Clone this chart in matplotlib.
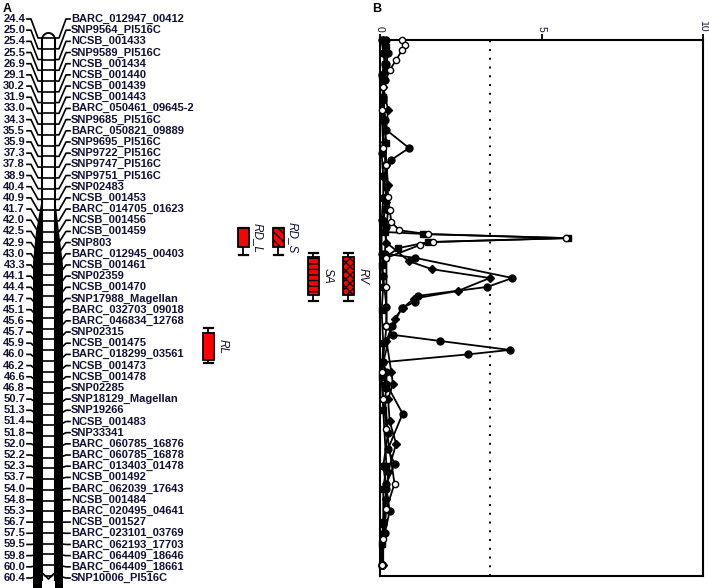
import numpy as np
import matplotlib
matplotlib.use('Agg')
import matplotlib.pyplot as plt
from matplotlib.patches import Rectangle, Polygon

plt.rcParams['font.family'] = ['Liberation Sans', 'DejaVu Sans']

# ==============================================================================
# Linkage group (panel A)
marker_cm = [24.4, 25.0, 25.4, 25.5, 26.9, 29.1, 30.2, 31.9, 33.0, 34.3,
             35.5, 35.9, 37.3, 37.8, 38.9, 40.4, 40.9, 41.7, 42.0, 42.5,
             42.9, 43.0, 43.3, 44.1, 44.4, 44.7, 45.1, 45.6, 45.7, 45.9,
             46.0, 46.2, 46.6, 46.8, 50.7, 51.3, 51.4, 51.8, 52.0, 52.2,
             52.3, 53.7, 54.0, 54.8, 55.3, 56.7, 57.5, 59.5, 59.8, 60.0,
             60.4]
marker_names = ['BARC_012947_00412', 'SNP9564_PI516C', 'NCSB_001433',
                'SNP9589_PI516C', 'NCSB_001434', 'NCSB_001440', 'NCSB_001439',
                'NCSB_001443', 'BARC_050461_09645-2', 'SNP9685_PI516C',
                'BARC_050821_09889', 'SNP9695_PI516C', 'SNP9722_PI516C',
                'SNP9747_PI516C', 'SNP9751_PI516C', 'SNP02483', 'NCSB_001453',
                'BARC_014705_01623', 'NCSB_001456', 'NCSB_001459', 'SNP803',
                'BARC_012945_00403', 'NCSB_001461', 'SNP02359', 'NCSB_001470',
                'SNP17988_Magellan', 'BARC_032703_09018', 'BARC_046834_12768',
                'SNP02315', 'NCSB_001475', 'BARC_018299_03561', 'NCSB_001473',
                'NCSB_001478', 'SNP02285', 'SNP18129_Magellan', 'SNP19266',
                'NCSB_001483', 'SNP33341', 'BARC_060785_16876',
                'BARC_060785_16878', 'BARC_013403_01478', 'NCSB_001492',
                'BARC_062039_17643', 'NCSB_001484', 'BARC_020495_04641',
                'NCSB_001527', 'BARC_023101_03769', 'BARC_062193_17703',
                'BARC_064409_18646', 'BARC_064409_18661', 'SNP10006_PI516C']

# QTL intervals (cM)
qtl_names = ['RL', 'RD_L', 'RD_S', 'SA', 'RV']
qtl_whisk_top = [45.66, 42.35, 42.35, 42.99, 42.99]
qtl_box_top = [45.72, 42.35, 42.35, 43.09, 43.09]
qtl_box_bot = [46.10, 42.94, 42.94, 44.61, 44.61]
qtl_whisk_bot = [46.15, 43.03, 43.03, 44.79, 44.79]

# ==============================================================================
# LOD profiles (panel B)
rl_pos = [25.35, 25.5, 27.0, 29.1, 31.9, 34.3, 37.3, 38.9, 40.9, 42.0,
          43.0, 44.1, 45.0, 45.65, 45.75, 45.86, 45.96, 46.0, 46.14, 46.43,
          46.8, 50.7, 51.8, 52.3, 54.0, 55.3, 57.5, 59.96]
rl_lod = [0.05, 0.1, 0.15, 0.05, 0.1, 0.15, 0.05, 0.1, 0.1, 0.05,
          0.05, 0.1, 0.2, 0.2, 0.4, 1.86, 4.02, 2.72, 0.09, 0.2,
          0.2, 0.15, 0.25, 0.1, 0.2, 0.3, 0.15, 0.05]

rdl_pos = [25.35, 25.45, 26.9, 29.1, 31.9, 34.3, 36.0, 37.9, 40.4, 41.7,
           42.1, 42.52, 42.59, 42.74, 42.88, 42.95, 43.11, 43.3, 44.4, 45.1,
           45.9, 46.6, 51.3, 52.3, 54.0, 56.7, 59.5, 59.96]
rdl_lod = [0.1, 0.2, 0.15, 0.05, 0.1, 0.1, 0.2, 0.15, 0.2, 0.15,
           0.1, 0.15, 1.33, 5.82, 1.49, 0.56, 0.15, 0.05, 0.1, 0.05,
           0.1, 0.05, 0.1, 0.2, 0.1, 0.1, 0.05, 0.05]

rds_pos = [25.35, 25.43, 25.48, 26.44, 28.13, 30.3, 33.2, 36.66, 37.9, 40.86,
           41.72, 42.08, 42.45, 42.6, 42.74, 42.88, 42.92, 43.11, 44.4, 45.65,
           46.43, 50.6, 51.66, 53.87, 55.2, 58.5, 59.96]
rds_lod = [0.68, 0.77, 0.68, 0.5, 0.3, 0.1, 0.05, 0.1, 0.2, 0.25,
           0.3, 0.35, 0.6, 1.5, 5.75, 1.65, 1.25, 0.2, 0.2, 0.2,
           0.05, 0.1, 0.2, 0.45, 0.2, 0.1, 0.05]

sa_pos = [25.35, 25.5, 26.9, 29.6, 32.2, 35.42, 36.66, 37.6, 39.0, 40.86,
          41.72, 42.3, 43.0, 43.11, 44.15, 44.39, 44.63, 44.82, 45.04, 45.65,
          46.14, 46.73, 51.33, 52.09, 52.28, 53.87, 56.82, 59.96]
sa_lod = [0.2, 0.25, 0.2, 0.15, 0.1, 0.2, 0.9, 0.35, 0.1, 0.2,
          0.25, 0.2, 0.15, 1.09, 4.1, 3.32, 1.17, 1.08, 0.68, 0.37,
          0.1, 0.2, 0.7, 0.25, 0.45, 0.2, 0.1, 0.05]

rv_pos = [25.35, 25.5, 28.1, 30.3, 33.2, 35.9, 37.9, 40.2, 41.2, 42.0,
          42.9, 43.2, 43.6, 44.15, 44.5, 44.7, 45.04, 45.5, 45.86, 46.43,
          46.73, 50.7, 51.4, 52.0, 53.0, 54.74, 57.5, 59.96]
rv_lod = [0.1, 0.15, 0.2, 0.1, 0.25, 0.15, 0.2, 0.25, 0.2, 0.1,
          0.2, 0.9, 1.6, 3.4, 2.4, 1.06, 0.7, 0.45, 0.2, 0.35,
          0.4, 0.25, 0.3, 0.5, 0.25, 0.2, 0.1, 0.1]

lod_threshold = 3.4
lod_ticks = [0, 5, 10]


# ==============================================================================
def main():
    W, H = 709, 588
    fig = plt.figure(figsize=(W / 100, H / 100), dpi=100)
    txt_col = '#111133'

    n = len(marker_cm)
    idx = np.arange(n)
    y_first, y_last = 19.0, 578.0
    step = (y_last - y_first) / (n - 1)

    def cm2px(cm):
        return y_first + np.interp(cm, marker_cm, idx) * step

    # --------------------------------------------------------------------------
    # Panel A: chromosome drawing in pixel-like coordinates
    ax = fig.add_axes([0, 0, 370 / W, 1])
    ax.set_xlim(0, 370)
    ax.set_ylim(H, 0)
    ax.axis('off')

    lab_y = y_first + idx * step
    chr_y = np.linspace(38, 576, n)
    xl, xr = 42, 55

    # black wedges in the dense part
    ax.add_patch(Polygon([(xl, 198), (36, 232), (33, 262), (33, H), (xl, H)],
                         closed=True, color='black', lw=0))
    ax.add_patch(Polygon([(xr, 198), (59, 232), (63, 265), (63, H), (xr, H)],
                         closed=True, color='black', lw=0))

    for i in range(n):
        ax.plot([27, 31, 38, xl], [lab_y[i], lab_y[i], chr_y[i], chr_y[i]],
                color='black', lw=1.2)
        ax.plot([xr, 59, 66, 70], [chr_y[i], chr_y[i], lab_y[i], lab_y[i]],
                color='black', lw=1.2)
        ax.plot([xl, xr], [chr_y[i], chr_y[i]], color='black', lw=1.2)
        ax.text(25, lab_y[i], '%.1f' % marker_cm[i], ha='right', va='center',
                fontsize=8, fontweight='bold', color=txt_col)
        ax.text(71, lab_y[i], marker_names[i], ha='left', va='center',
                fontsize=8, fontweight='bold', color=txt_col)

    # chromosome outline with rounded ends
    t = np.linspace(0, np.pi, 40)
    cx, rx = (xl + xr) / 2, (xr - xl) / 2
    ax.plot(cx + rx * np.cos(t), 40 - 7 * np.sin(t), color='black', lw=1.4)
    ax.plot(cx + rx * np.cos(t), 574 + 5 * np.sin(t), color='white', lw=1.6)
    ax.plot([xl, xl], [40, 580], color='black', lw=1.5)
    ax.plot([xr, xr], [40, 580], color='black', lw=1.5)
    ax.plot([cx - 5, cx, cx + 5], [574, 579, 574], color='black', lw=1.2)

    # QTL bars
    hatches = ['', '', '\\\\\\\\', '---', 'xxxx']
    for k, name in enumerate(qtl_names):
        xc = 208 + 35 * k
        wt, bt, bb, wb = cm2px([qtl_whisk_top[k], qtl_box_top[k],
                                qtl_box_bot[k], qtl_whisk_bot[k]])
        ax.plot([xc, xc], [wt, bt], color='black', lw=1.3)
        ax.plot([xc, xc], [bb, wb], color='black', lw=1.3)
        ax.plot([xc - 4.5, xc + 4.5], [wt, wt], color='black', lw=1.6)
        ax.plot([xc - 4.5, xc + 4.5], [wb, wb], color='black', lw=1.6)
        ax.add_patch(Rectangle((xc - 5.5, bt), 11, bb - bt, facecolor='red',
                               edgecolor='black', lw=1.3, hatch=hatches[k]))
        ax.text(xc + 9, (bt + bb) / 2, name, rotation=-90, ha='left',
                va='center', fontsize=8.5, style='italic', color=txt_col)

    fig.text(3 / W, 1 - 9 / H, 'A', fontsize=9, fontweight='bold',
             ha='left', va='center')
    fig.text(372 / W, 1 - 9 / H, 'B', fontsize=9, fontweight='bold',
             ha='left', va='center')

    # --------------------------------------------------------------------------
    # Panel B: LOD profiles
    top_px, bot_px = 40.0, 576.0
    bx = fig.add_axes([380 / W, (H - bot_px) / H, 323 / W,
                       (bot_px - top_px) / H])

    def fwd(cm):
        return np.interp(cm, marker_cm, idx)

    def inv(s):
        return np.interp(s, idx, marker_cm)

    bx.set_yscale('function', functions=(fwd, inv))
    bx.set_ylim(inv((bot_px - y_first) / step), inv((top_px - y_first) / step))
    bx.set_xlim(0, 10)

    style = dict(color='black', lw=1.3, clip_on=False, zorder=3)
    bx.plot(rv_lod, rv_pos, marker='D', ms=4, **style)
    bx.plot(sa_lod, sa_pos, marker='o', ms=5, **style)
    bx.plot(rl_lod, rl_pos, marker='o', ms=5, **style)
    bx.plot(rdl_lod, rdl_pos, marker='s', ms=5, **style)
    bx.plot(rds_lod, rds_pos, marker='o', ms=4.5, mfc='white', **style)

    bx.axvline(lod_threshold, color='black', lw=1.4, ls=(0, (1, 3.5)))

    for s in bx.spines.values():
        s.set_linewidth(1.5)
    bx.xaxis.tick_top()
    bx.set_xticks(lod_ticks)
    bx.set_xticklabels([str(v) for v in lod_ticks], rotation=-90,
                       fontsize=7.5, color=txt_col)
    bx.tick_params(axis='x', direction='out', length=4, width=1.3, pad=2)
    bx.set_yticks([])
    bx.minorticks_off()

    fig.savefig('out.png', dpi=100)


# ==============================================================================
if __name__ == '__main__':
    main()
